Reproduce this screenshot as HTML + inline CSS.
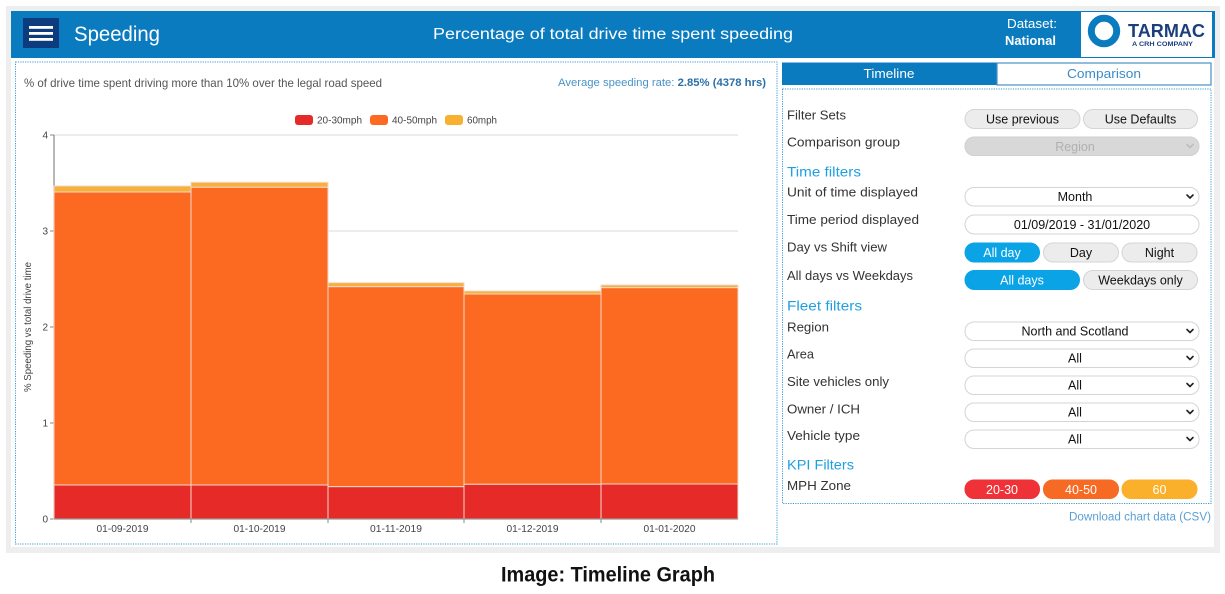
<!DOCTYPE html>
<html><head><meta charset="utf-8"><style>
html,body{margin:0;padding:0;background:#fff;}
svg{display:block;}
text{font-family:"Liberation Sans",sans-serif;}
</style></head><body>
<svg width="1225" height="594" viewBox="0 0 1225 594" xmlns="http://www.w3.org/2000/svg">
<!-- frame -->
<rect x="6" y="6" width="1214" height="547" fill="#eeeeee"/>
<rect x="11" y="11" width="1203" height="536" fill="#ffffff"/>
<!-- header -->
<rect x="11" y="11" width="1204" height="47" fill="#0b7bc0"/>
<rect x="23" y="18" width="36" height="30" fill="#0d3c7e"/>
<rect x="29" y="26" width="24" height="2.8" fill="#fff"/>
<rect x="29" y="32" width="24" height="2.8" fill="#fff"/>
<rect x="29" y="38" width="24" height="2.8" fill="#fff"/>
<text x="74" y="41" font-size="21" fill="#fff" textLength="86" lengthAdjust="spacingAndGlyphs">Speeding</text>
<text x="433" y="39" font-size="15.5" fill="#fff" textLength="360" lengthAdjust="spacingAndGlyphs">Percentage of total drive time spent speeding</text>
<text x="1007" y="28" font-size="12.5" fill="#fff" textLength="50" lengthAdjust="spacingAndGlyphs">Dataset:</text>
<text x="1005" y="45" font-size="13" font-weight="bold" fill="#fff" textLength="51" lengthAdjust="spacingAndGlyphs">National</text>
<!-- logo -->
<rect x="1081" y="12" width="131" height="45" fill="#ffffff"/>
<circle cx="1104" cy="31" r="12.7" fill="none" stroke="#0b7bc0" stroke-width="7"/>
<text x="1128" y="37" font-size="18" font-weight="bold" fill="#1b3f7c" textLength="77" lengthAdjust="spacingAndGlyphs">TARMAC</text>
<text x="1132" y="46" font-size="6.5" font-weight="bold" fill="#1b3f7c" textLength="61" lengthAdjust="spacingAndGlyphs">A CRH COMPANY</text>

<!-- left panel -->
<rect x="15.5" y="62" width="761.5" height="482" fill="#fff" stroke="#3d9ad1" stroke-width="1" stroke-dasharray="1.2,1.2"/>
<text x="24" y="87" font-size="12" fill="#555" textLength="358" lengthAdjust="spacingAndGlyphs">% of drive time spent driving more than 10% over the legal road speed</text>
<text x="558" y="86" font-size="11" fill="#4a92c6" textLength="208" lengthAdjust="spacingAndGlyphs">Average speeding rate: <tspan font-weight="bold" fill="#2a6fa8">2.85% (4378 hrs)</tspan></text>

<!-- legend -->
<rect x="295" y="115" width="18" height="10" rx="3" fill="#e62a27"/>
<text x="317" y="123.5" font-size="10" fill="#444" textLength="45" lengthAdjust="spacingAndGlyphs">20-30mph</text>
<rect x="370" y="115" width="18" height="10" rx="3" fill="#fc6a21"/>
<text x="392" y="123.5" font-size="10" fill="#444" textLength="45" lengthAdjust="spacingAndGlyphs">40-50mph</text>
<rect x="445" y="115" width="18" height="10" rx="3" fill="#f8b031"/>
<text x="467" y="123.5" font-size="10" fill="#444" textLength="30" lengthAdjust="spacingAndGlyphs">60mph</text>

<!-- gridlines -->
<g stroke="#e2e2e2" stroke-width="1.2">
<line x1="54" y1="135" x2="738" y2="135"/>
<line x1="54" y1="231" x2="738" y2="231"/>
<line x1="54" y1="327" x2="738" y2="327"/>
<line x1="54" y1="423" x2="738" y2="423"/>
</g>
<!-- y axis -->
<line x1="54" y1="135" x2="54" y2="519" stroke="#888" stroke-width="1.2"/>
<g stroke="#888" stroke-width="1">
<line x1="50" y1="135" x2="54" y2="135"/>
<line x1="50" y1="231" x2="54" y2="231"/>
<line x1="50" y1="327" x2="54" y2="327"/>
<line x1="50" y1="423" x2="54" y2="423"/>
<line x1="50" y1="519" x2="54" y2="519"/>
</g>
<g font-size="10" fill="#444" text-anchor="end">
<text x="48" y="138.5">4</text>
<text x="48" y="234.5">3</text>
<text x="48" y="330.5">2</text>
<text x="48" y="426.5">1</text>
<text x="48" y="522.5">0</text>
</g>
<text transform="translate(31,327) rotate(-90)" font-size="10" fill="#444" text-anchor="middle" textLength="130" lengthAdjust="spacingAndGlyphs">% Speeding vs total drive time</text>

<!-- bars -->
<g stroke="#f2d8cc" stroke-width="1">
<rect x="54" y="186" width="137" height="6" fill="#f7b03a"/>
<rect x="54" y="192" width="137" height="293" fill="#fc6a21"/>
<rect x="54" y="485" width="137" height="34" fill="#e62a27"/>
<rect x="191" y="182.3" width="137" height="5" fill="#f7b03a"/>
<rect x="191" y="187.3" width="137" height="297.7" fill="#fc6a21"/>
<rect x="191" y="485" width="137" height="34" fill="#e62a27"/>
<rect x="328" y="282.7" width="136" height="4" fill="#f7b03a"/>
<rect x="328" y="286.7" width="136" height="200" fill="#fc6a21"/>
<rect x="328" y="486.7" width="136" height="32.3" fill="#e62a27"/>
<rect x="464" y="291" width="137" height="3" fill="#f7b03a"/>
<rect x="464" y="294" width="137" height="190.3" fill="#fc6a21"/>
<rect x="464" y="484.3" width="137" height="34.7" fill="#e62a27"/>
<rect x="601" y="285" width="137" height="2.7" fill="#f7b03a"/>
<rect x="601" y="287.7" width="137" height="196.3" fill="#fc6a21"/>
<rect x="601" y="484" width="137" height="35" fill="#e62a27"/>
</g>
<!-- x axis -->
<line x1="54" y1="519" x2="738" y2="519" stroke="#999" stroke-width="1.2"/>
<g stroke="#888" stroke-width="1">
<line x1="191" y1="519" x2="191" y2="523"/>
<line x1="328" y1="519" x2="328" y2="523"/>
<line x1="464" y1="519" x2="464" y2="523"/>
<line x1="601" y1="519" x2="601" y2="523"/>
</g>
<g font-size="10.5" fill="#444" text-anchor="middle">
<text x="122.5" y="532" textLength="52" lengthAdjust="spacingAndGlyphs">01-09-2019</text>
<text x="259.5" y="532" textLength="52" lengthAdjust="spacingAndGlyphs">01-10-2019</text>
<text x="396" y="532" textLength="52" lengthAdjust="spacingAndGlyphs">01-11-2019</text>
<text x="532.5" y="532" textLength="52" lengthAdjust="spacingAndGlyphs">01-12-2019</text>
<text x="669.5" y="532" textLength="52" lengthAdjust="spacingAndGlyphs">01-01-2020</text>
</g>

<!-- tabs -->
<rect x="782" y="62.5" width="214.5" height="22.5" fill="#0b7bc0"/>
<text x="889" y="78" font-size="12.5" fill="#fff" text-anchor="middle" textLength="51" lengthAdjust="spacingAndGlyphs">Timeline</text>
<rect x="997" y="63" width="214" height="22" fill="#fff" stroke="#4a8fc6" stroke-width="1.2"/>
<text x="1104" y="78" font-size="12.5" fill="#3a8cc8" text-anchor="middle" textLength="74" lengthAdjust="spacingAndGlyphs">Comparison</text>

<!-- right panel -->
<rect x="782.5" y="89" width="428.5" height="414.5" fill="#fff" stroke="#3d9ad1" stroke-width="1" stroke-dasharray="1.2,1.2"/>

<g font-size="12.5" fill="#333">
<text x="787" y="119.3" textLength="59" lengthAdjust="spacingAndGlyphs">Filter Sets</text>
<text x="787" y="146.7" textLength="113" lengthAdjust="spacingAndGlyphs">Comparison group</text>
<text x="787" y="196.7" textLength="131" lengthAdjust="spacingAndGlyphs">Unit of time displayed</text>
<text x="787" y="224" textLength="132" lengthAdjust="spacingAndGlyphs">Time period displayed</text>
<text x="787" y="251.7" textLength="100" lengthAdjust="spacingAndGlyphs">Day vs Shift view</text>
<text x="787" y="280" textLength="126" lengthAdjust="spacingAndGlyphs">All days vs Weekdays</text>
<text x="787" y="331.7" textLength="42" lengthAdjust="spacingAndGlyphs">Region</text>
<text x="787" y="358.3" textLength="27" lengthAdjust="spacingAndGlyphs">Area</text>
<text x="787" y="386" textLength="102" lengthAdjust="spacingAndGlyphs">Site vehicles only</text>
<text x="787" y="413.3" textLength="73" lengthAdjust="spacingAndGlyphs">Owner / ICH</text>
<text x="787" y="440" textLength="73" lengthAdjust="spacingAndGlyphs">Vehicle type</text>
<text x="787" y="490" textLength="64" lengthAdjust="spacingAndGlyphs">MPH Zone</text>
</g>
<g font-size="14" fill="#1ea0e0">
<text x="787" y="176.7" textLength="74" lengthAdjust="spacingAndGlyphs">Time filters</text>
<text x="787" y="310.7" textLength="75" lengthAdjust="spacingAndGlyphs">Fleet filters</text>
<text x="787" y="469.3" textLength="67" lengthAdjust="spacingAndGlyphs">KPI Filters</text>
</g>

<!-- controls -->
<g stroke="#d4d4d4" stroke-width="1">
<rect x="965" y="109.5" width="115" height="19" rx="9.5" fill="#ececec"/>
<rect x="1083.5" y="109.5" width="114" height="19" rx="9.5" fill="#ececec"/>
<rect x="965" y="137" width="234" height="18.5" rx="9" fill="#d8d8d8" stroke="#cfcfcf"/>
<rect x="965" y="187.5" width="234" height="18.5" rx="9" fill="#fff"/>
<rect x="965" y="215" width="234" height="19" rx="9.5" fill="#fff"/>
<rect x="965" y="243" width="74.5" height="19" rx="9.5" fill="#0aa3e6" stroke="#0aa3e6"/>
<rect x="1043.5" y="243" width="75" height="19" rx="9.5" fill="#ececec"/>
<rect x="1122" y="243" width="75" height="19" rx="9.5" fill="#ececec"/>
<rect x="965" y="270.5" width="114.5" height="19" rx="9.5" fill="#0aa3e6" stroke="#0aa3e6"/>
<rect x="1083.5" y="270.5" width="114" height="19" rx="9.5" fill="#ececec"/>
<rect x="965" y="322" width="234" height="18.5" rx="9" fill="#fff"/>
<rect x="965" y="349" width="234" height="18.5" rx="9" fill="#fff"/>
<rect x="965" y="376" width="234" height="18.5" rx="9" fill="#fff"/>
<rect x="965" y="403" width="234" height="18.5" rx="9" fill="#fff"/>
<rect x="965" y="430" width="234" height="18.5" rx="9" fill="#fff"/>
<rect x="965" y="480" width="74.5" height="18.5" rx="9" fill="#ee3237" stroke="#ee3237"/>
<rect x="1043.5" y="480" width="75" height="18.5" rx="9" fill="#f66a23" stroke="#f66a23"/>
<rect x="1122" y="480" width="75" height="18.5" rx="9" fill="#fbb02b" stroke="#fbb02b"/>
</g>
<g font-size="12.5" fill="#111" text-anchor="middle">
<text x="1022.5" y="123.5">Use previous</text>
<text x="1140.5" y="123.5">Use Defaults</text>
<text x="1075" y="150.8" fill="#b0b0b0">Region</text>
<text x="1075" y="201">Month</text>
<text x="1082" y="228.8">01/09/2019 - 31/01/2020</text>
<text x="1002" y="256.8" fill="#fff">All day</text>
<text x="1081" y="256.8">Day</text>
<text x="1159.5" y="256.8">Night</text>
<text x="1022" y="284.3" fill="#fff">All days</text>
<text x="1140.5" y="284.3">Weekdays only</text>
<text x="1075" y="335.5">North and Scotland</text>
<text x="1075" y="362.5">All</text>
<text x="1075" y="389.5">All</text>
<text x="1075" y="416.5">All</text>
<text x="1075" y="443.5">All</text>
<text x="1002" y="494" fill="#fff">20-30</text>
<text x="1081" y="494" fill="#fff">40-50</text>
<text x="1159.5" y="494" fill="#fff">60</text>
</g>
<!-- chevrons -->
<g fill="none" stroke="#222" stroke-width="1.6" stroke-linecap="round" stroke-linejoin="round">
<polyline points="1187,195 1190,198 1193,195"/>
<polyline points="1187,329.5 1190,332.5 1193,329.5"/>
<polyline points="1187,356.5 1190,359.5 1193,356.5"/>
<polyline points="1187,383.5 1190,386.5 1193,383.5"/>
<polyline points="1187,410.5 1190,413.5 1193,410.5"/>
<polyline points="1187,437.5 1190,440.5 1193,437.5"/>
<polyline points="1187,144.5 1190,147.5 1193,144.5" stroke="#bdbdbd"/>
</g>
<text x="1211" y="520.5" font-size="11.5" fill="#5a9fd4" text-anchor="end" textLength="142" lengthAdjust="spacingAndGlyphs">Download chart data (CSV)</text>

<!-- caption -->
<text x="501" y="581.5" font-size="21" font-weight="bold" fill="#111" textLength="214" lengthAdjust="spacingAndGlyphs">Image: Timeline Graph</text>
</svg>
</body></html>
